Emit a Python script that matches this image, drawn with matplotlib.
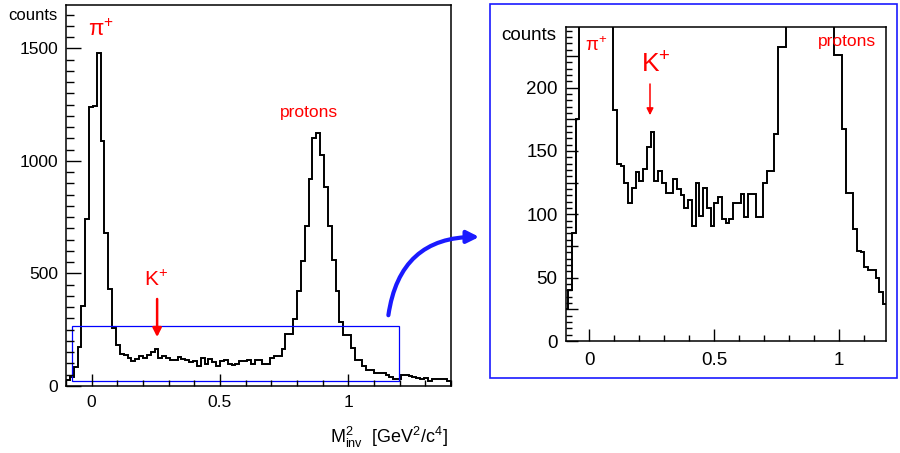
import numpy as np
import matplotlib.pyplot as plt
from matplotlib.patches import Rectangle, FancyArrowPatch
from matplotlib.ticker import MultipleLocator, FixedLocator, FuncFormatter

plt.rcParams['font.family'] = ['Liberation Sans', 'DejaVu Sans']
plt.rcParams['mathtext.fontset'] = 'custom'
plt.rcParams['mathtext.rm'] = 'Liberation Sans'
plt.rcParams['mathtext.it'] = 'Liberation Sans:italic'

# histogram binning (GeV^2/c^4)
m2_lo, m2_hi, n_bins = -0.1, 1.4, 100

# counts per bin
counts = [
    25, 40, 85, 175, 355, 740, 1240, 1245, 1479, 1087,
    680, 429, 259, 182, 140, 138, 125, 109, 121, 133,
    126, 136, 153, 165, 126, 134, 125, 117, 117, 128,
    120, 115, 105, 111, 91, 125, 99, 121, 105, 91,
    109, 114, 96, 93, 96, 109, 109, 116, 98, 116,
    116, 98, 98, 125, 134, 134, 163, 232, 232, 299,
    421, 555, 710, 920, 1102, 1124, 1028, 885, 713, 562,
    421, 284, 226, 226, 167, 117, 117, 88, 71, 70,
    58, 56, 56, 50, 39, 29, 33, 48, 47, 46,
    38, 36, 31, 34, 24, 30, 31, 30, 31, 24,
]

edges = np.linspace(m2_lo, m2_hi, n_bins + 1)
fmt = FuncFormatter(lambda v, p: '%g' % v)

fig = plt.figure(figsize=(9, 4.53), dpi=100)
ax1 = fig.add_axes([66 / 900, 67 / 453, 385 / 900, 381 / 453])
ax2 = fig.add_axes([566 / 900, 112 / 453, 320 / 900, 314.3 / 453])

for ax in (ax1, ax2):
    ax.stairs(counts, edges, color='black', lw=1.4)
    ax.tick_params(which='both', direction='in', top=False, right=False, width=1)
    for s in ax.spines.values():
        s.set_linewidth(1.1)
    ax.xaxis.set_major_locator(FixedLocator([0, 0.5, 1]))
    ax.xaxis.set_minor_locator(MultipleLocator(0.1))
    ax.xaxis.set_major_formatter(fmt)

# left: full range
ax1.set_xlim(m2_lo, m2_hi)
ax1.set_ylim(0, 1693)
ax1.yaxis.set_major_locator(MultipleLocator(500))
ax1.yaxis.set_minor_locator(MultipleLocator(50))
ax1.yaxis.set_major_formatter(fmt)
ax1.tick_params(axis='y', which='major', length=10.8, pad=5.5, labelsize=12.5)
ax1.tick_params(axis='y', which='minor', length=5.8)
ax1.tick_params(axis='x', which='major', length=8.6, pad=6.5, labelsize=12.5)
ax1.tick_params(axis='x', which='minor', length=4.3)

ax1.add_patch(Rectangle((-0.075, 20), 1.273, 248, fill=False, ec='#0000ff', lw=0.9))
ax1.text(0.035, 1582, r'π$^{+}$', color='red', fontsize=16, ha='center', va='center')
ax1.text(0.252, 473, r'K$^{+}$', color='red', fontsize=15, ha='center', va='center')
ax1.text(0.848, 1214, 'protons', color='red', fontsize=12.5, ha='center', va='center')
ax1.annotate('', xy=(0.255, 205), xytext=(0.255, 399),
             arrowprops=dict(arrowstyle='-|>', color='red', lw=1.8, mutation_scale=13))

# right: zoomed view
ax2.set_xlim(-0.093, 1.187)
ax2.set_ylim(0, 248)
ax2.yaxis.set_major_locator(MultipleLocator(25))
ax2.yaxis.set_minor_locator(MultipleLocator(5))
ax2.yaxis.set_major_formatter(FuncFormatter(lambda v, p: '%g' % v if v % 50 == 0 else ''))
ax2.tick_params(axis='y', which='major', length=8.6, pad=6, labelsize=13.5)
ax2.tick_params(axis='y', which='minor', length=4.3)
ax2.tick_params(axis='x', which='major', length=8.6, pad=8, labelsize=13.5)
ax2.tick_params(axis='x', which='minor', length=4.6)

ax2.text(0.029, 233, r'π$^{+}$', color='red', fontsize=13.5, ha='center', va='center')
ax2.text(0.266, 218, r'K$^{+}$', color='red', fontsize=19, ha='center', va='center')
ax2.text(1.032, 236, 'protons', color='red', fontsize=12.5, ha='center', va='center')
ax2.annotate('', xy=(0.243, 176), xytext=(0.243, 205),
             arrowprops=dict(arrowstyle='-|>', color='red', lw=1.1, mutation_scale=10))

# labels
fig.text(8 / 900, 1 - 15 / 453, 'counts', fontsize=12, va='center', ha='left')
fig.text(501 / 900, 1 - 35 / 453, 'counts', fontsize=13.5, va='center', ha='left')
fig.text(448 / 900, 1 - 437 / 453, r'M$^{2}_{\rm inv}$  [GeV$^{2}$/c$^{4}$]',
         fontsize=13, ha='right', va='center')

# frame around the zoom and connecting arrow
fig.add_artist(Rectangle((490 / 900, 75 / 453), 407 / 900, 374 / 453,
                         transform=fig.transFigure, fill=False, ec='#1a1aff', lw=1.2))
fig.add_artist(FancyArrowPatch((388 / 900, 1 - 318 / 453), (482 / 900, 1 - 237 / 453),
                               transform=fig.transFigure,
                               connectionstyle='arc3,rad=-0.45',
                               arrowstyle='-|>', mutation_scale=18,
                               color='#1a1aff', lw=3))

fig.savefig('out.png', dpi=100, facecolor='white')
